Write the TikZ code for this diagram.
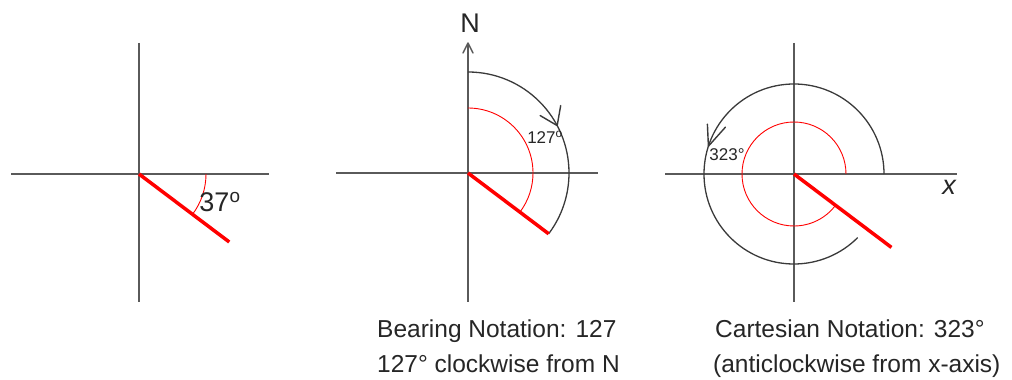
\documentclass[tikz,border=0pt]{standalone}
\usepackage{fontspec}
\setmainfont{Liberation Sans}
\definecolor{axisgray}{HTML}{5A5A5A}
\definecolor{arcgray}{HTML}{3A3A3A}
\begin{document}
\begin{tikzpicture}[x=1pt,y=1pt,
  axis/.style={draw=axisgray, line width=1.4pt},
  redline/.style={draw=red, line width=3.5pt},
  redarc/.style={draw=red, line width=0.9pt},
  blackarc/.style={draw=arcgray, line width=1.3pt},
  barbline/.style={draw=arcgray, line width=1.4pt, line cap=round},
  smalllbl/.style={inner sep=0pt, text=black!85, font=\fontsize{17}{20}\selectfont},
  biglbl/.style={inner sep=0pt, text=black!85, font=\fontsize{27}{30}\selectfont},
  captxt/.style={inner sep=0pt, anchor=base west, text=black!85, font=\fontsize{24.5}{28}\selectfont}]
\useasboundingbox (0,0) rectangle (1012,380);
% Panel 1
\begin{scope}[shift={(139,206)}]
  \coordinate (O1) at (0,0);
  \draw[axis] (-128,0) -- (130,0);
  \draw[axis] (0,131) -- (0,-128);
  \draw[redarc] (67,0) arc (0:-37:67);
  \draw[redline] (O1) -- (-37:113);
  \node[biglbl] (a37) at (81,-28) {37\textsuperscript{o}};
\end{scope}
% Panel 2
\begin{scope}[shift={(468,207)}]
  \coordinate (O2) at (0,0);
  \coordinate (Ntip) at (0,130);
  \draw[axis] (-132,0) -- (130,0);
  \draw[axis] (0,-129) -- (Ntip);
  \draw[axis,line cap=round] (Ntip) -- ++(-5,-10) (Ntip) -- ++(5,-10);
  \node[biglbl] (N) at (2,150) {N};
  \draw[blackarc] (90:101) arc (90:-37:101);
  \coordinate (t2) at (28:101);
  \draw[barbline] (t2) -- ++(3.5,20) (t2) -- ++(-17,10);
  \draw[redarc] (90:65) arc (90:-37:65);
  \draw[redline] (O2) -- (-37:101);
  \node[smalllbl] (a127) at (77,36) {127\textsuperscript{o}};
\end{scope}
% Panel 3
\begin{scope}[shift={(794,206)}]
  \coordinate (O3) at (0,0);
  \draw[axis] (-129,0) -- (163,0);
  \draw[axis] (0,131) -- (0,-128);
  \draw[blackarc] (0:90) arc (0:315:90);
  \coordinate (t3) at (162:90);
  \draw[barbline] (t3) -- ++(-1,22) (t3) -- ++(17,19);
  \draw[redarc] (0:52) arc (0:323:52);
  \draw[redline] (O3) -- (-37:122);
  \node[biglbl] (xl) at (155,-13) {\itshape x};
  \node[smalllbl] (a323) at (-67,19) {323°};
\end{scope}
% Captions
\node[captxt] (c1) at (377,42) {Bearing Notation: 127};
\node[captxt] (c2) at (377,7) {127° clockwise from N};
\node[captxt] (c3) at (715,42) {Cartesian Notation: 323°};
\node[captxt] (c4) at (713,7) {(anticlockwise from x-axis)};
\end{tikzpicture}
\end{document}
